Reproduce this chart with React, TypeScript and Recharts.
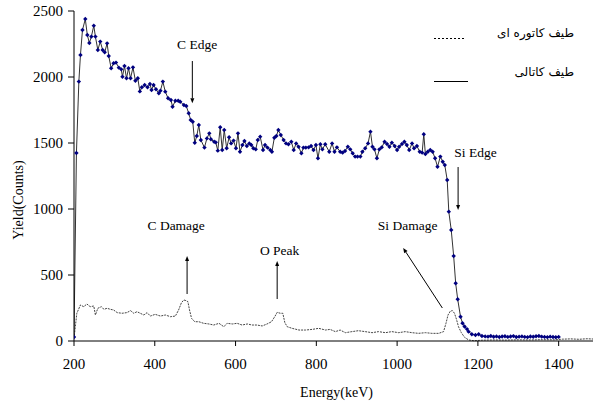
import { Line, LineChart, ReferenceDot, ReferenceLine, XAxis, YAxis } from "recharts";

// random spectrum (blue markers)
const randomEnergy = [
  200, 206, 212, 216, 221, 228, 233, 238, 243, 249, 253, 259, 265, 271, 276, 282, 286, 292, 298, 304,
  311, 317, 320, 325, 330, 335, 340, 346, 352, 358, 363, 368, 375, 382, 388, 392, 397, 403, 410, 414,
  420, 426, 433, 440, 444, 451, 458, 463, 472, 478, 484, 489, 494, 499, 504, 509, 514, 523, 529, 535,
  539, 547, 551, 556, 562, 567, 572, 578, 584, 589, 595, 601, 606, 611, 617, 622, 628, 634, 639, 644,
  650, 655, 661, 668, 673, 679, 686, 690, 696, 701, 706, 712, 719, 725, 731, 738, 744, 750, 756, 763,
  768, 774, 781, 787, 793, 799, 804, 810, 815, 822, 832, 839, 845, 851, 859, 865, 871, 878, 884, 890,
  896, 902, 909, 914, 921, 928, 934, 939, 944, 950, 956, 962, 969, 975, 981, 987, 994, 1000, 1005, 1012,
  1018, 1024, 1030, 1037, 1042, 1049, 1056, 1062, 1066, 1070, 1076, 1082, 1088, 1094, 1100, 1107, 1113, 1118, 1124, 1128,
  1134, 1140, 1145, 1150, 1157, 1162, 1167, 1173, 1177, 1185, 1194, 1202, 1210, 1218, 1225, 1232, 1239, 1246, 1253, 1260,
  1267, 1274, 1281, 1288, 1295, 1302, 1309, 1316, 1323, 1330, 1337, 1344, 1351, 1358, 1365, 1372, 1379, 1386, 1393, 1400,
];
const randomYield = [
  30, 1424, 1965, 2167, 2356, 2439, 2318, 2258, 2306, 2389, 2306, 2205, 2268, 2205, 2187, 2255, 2159, 2066, 2104, 2109,
  2071, 2058, 2002, 2083, 1990, 2066, 1990, 2073, 1972, 1990, 1891, 1922, 1939, 1922, 1947, 1902, 1939, 1907, 1877, 1896,
  1965, 1889, 1839, 1826, 1775, 1820, 1820, 1813, 1788, 1780, 1725, 1674, 1661, 1502, 1553, 1636, 1523, 1465, 1535, 1573,
  1528, 1510, 1505, 1442, 1619, 1447, 1598, 1460, 1543, 1497, 1518, 1460, 1573, 1434, 1485, 1515, 1477, 1497, 1485, 1460,
  1452, 1523, 1548, 1447, 1485, 1465, 1447, 1434, 1540, 1553, 1598, 1561, 1523, 1497, 1490, 1510, 1447, 1497, 1472, 1422,
  1465, 1465, 1467, 1477, 1447, 1485, 1384, 1490, 1452, 1490, 1434, 1497, 1434, 1467, 1434, 1427, 1439, 1472, 1452, 1422,
  1397, 1397, 1397, 1434, 1460, 1497, 1586, 1472, 1452, 1384, 1452, 1467, 1510, 1492, 1472, 1502, 1477, 1447, 1472, 1492,
  1510, 1485, 1447, 1497, 1460, 1477, 1434, 1427, 1566, 1417, 1434, 1447, 1434, 1384, 1320, 1397, 1358, 1333, 1220, 980,
  841, 644, 437, 316, 184, 134, 110, 90, 71, 51, 45, 51, 38, 35, 33, 38, 32, 35, 30, 34,
  36, 31, 34, 37, 30, 33, 35, 31, 29, 34, 32, 36, 38, 33, 31, 29, 33, 30, 28, 31,
];

// channeled spectrum (thin dotted)
const channelEnergy = [
  200, 207, 216, 224, 232, 240, 249, 253, 259, 268, 274, 282, 290, 298, 307, 319, 331, 340, 348, 356,
  364, 373, 381, 389, 401, 414, 426, 439, 451, 459, 466, 472, 478, 482, 486, 491, 499, 509, 521, 534,
  546, 559, 571, 579, 592, 604, 616, 629, 641, 653, 666, 678, 689, 697, 703, 711, 717, 722, 728, 740,
  757, 773, 790, 806, 823, 834, 847, 859, 872, 888, 904, 921, 938, 954, 971, 987, 1004, 1020, 1037, 1053,
  1070, 1086, 1103, 1115, 1121, 1126, 1132, 1137, 1142, 1147, 1152, 1159, 1167, 1177, 1190, 1210, 1240, 1270, 1300, 1330,
  1360, 1390, 1410, 1430, 1450, 1470, 1485,
];
const channelYield = [
  20, 210, 273, 260, 280, 260, 265, 197, 248, 260, 240, 248, 240, 235, 215, 210, 215, 230, 210, 222,
  210, 197, 215, 189, 202, 189, 197, 184, 189, 235, 290, 311, 305, 298, 235, 172, 146, 146, 134, 129,
  121, 134, 108, 134, 129, 134, 121, 129, 121, 121, 114, 129, 146, 184, 217, 210, 210, 139, 108, 96,
  83, 83, 88, 96, 83, 88, 71, 83, 63, 71, 78, 71, 63, 71, 63, 71, 63, 71, 63, 58,
  63, 58, 58, 71, 134, 197, 227, 230, 210, 164, 108, 63, 28, 8, 2, 6, 8, 7, 9, 8,
  10, 9, 14, 16, 13, 17, 15,
];

const xTicks = [200, 400, 600, 800, 1000, 1200, 1400];
const yTicks = [0, 500, 1000, 1500, 2000, 2500];

const randomData = randomEnergy.map((e, i) => ({ e, y: randomYield[i] }));
const channelData = channelEnergy.map((e, i) => ({ e, y: channelYield[i] }));

const serif = '"Liberation Serif", "Times New Roman", serif';

const Diamond = (p: any) => {
  const { cx, cy, index } = p;
  if (cx == null || cy == null) return null;
  const s = 2.2;
  return (
    <polygon
      key={`d-${index}`}
      points={`${cx},${cy - s} ${cx + s},${cy} ${cx},${cy + s} ${cx - s},${cy}`}
      fill="#000080"
    />
  );
};

const Arrow = (p: any) => {
  const { x1, y1, x2, y2 } = p;
  const ang = Math.atan2(y2 - y1, x2 - x1);
  const len = 5;
  const w = 2;
  const bx = x2 - len * Math.cos(ang);
  const by = y2 - len * Math.sin(ang);
  const px = -Math.sin(ang) * w;
  const py = Math.cos(ang) * w;
  return (
    <g>
      <line x1={x1} y1={y1} x2={bx} y2={by} stroke="#000" strokeWidth={1} />
      <polygon points={`${x2},${y2} ${bx + px},${by + py} ${bx - px},${by - py}`} fill="#000" />
    </g>
  );
};

const arrows = [
  { from: { x: 493, y: 2121 }, to: { x: 493, y: 1801 } },
  { from: { x: 480, y: 356 }, to: { x: 480, y: 644 } },
  { from: { x: 703, y: 318 }, to: { x: 703, y: 606 } },
  { from: { x: 1112, y: 250 }, to: { x: 1015, y: 705 } },
  { from: { x: 1151, y: 1318 }, to: { x: 1151, y: 992 } },
];

const notes = [
  { text: "C Edge", x: 505, y: 2250 },
  { text: "C Damage", x: 453, y: 876 },
  { text: "O Peak", x: 709, y: 689 },
  { text: "Si Damage", x: 1026, y: 876 },
  { text: "Si Edge", x: 1194, y: 1434 },
];

const LegendBox = () => (
  <div
    style={{
      position: "absolute",
      left: 420,
      top: 15,
      width: 170,
      height: 80,
      fontFamily: '"DejaVu Sans", sans-serif',
      fontSize: 12,
    }}
  >
    <svg width={60} height={80} style={{ position: "absolute", left: 0, top: 0 }}>
      <line x1={14} y1={23.5} x2={46} y2={23.5} stroke="#000" strokeDasharray="2 2" />
      <line x1={14} y1={66.5} x2={48} y2={66.5} stroke="#000" />
    </svg>
    <div dir="rtl" style={{ position: "absolute", right: 16, top: 10, whiteSpace: "nowrap", lineHeight: "16px" }}>
      طیف کاتوره ای
    </div>
    <div dir="rtl" style={{ position: "absolute", right: 16, top: 49, whiteSpace: "nowrap", lineHeight: "16px" }}>
      طیف کاتالی
    </div>
  </div>
);

export default function App() {
  return (
    <div style={{ position: "absolute", left: 0, top: 0, width: 593, height: 405, background: "#fff" }}>
      <LineChart width={593} height={405} margin={{ top: 11, right: 0, bottom: 0, left: 0 }}>
        <XAxis
          type="number"
          dataKey="e"
          domain={[200, 1485]}
          ticks={xTicks}
          allowDataOverflow
          height={64}
          stroke="#000"
          tickSize={5}
          tickMargin={12}
          tick={{ fill: "#000", fontSize: 15, fontFamily: serif }}
          label={{ value: "Energy(keV)", position: "insideBottom", offset: 8, dx: 3, fill: "#000", fontSize: 14, fontFamily: serif }}
        />
        <YAxis
          type="number"
          domain={[0, 2500]}
          ticks={yTicks}
          width={74}
          stroke="#000"
          tickSize={6}
          tickMargin={5}
          tick={{ fill: "#000", fontSize: 15, fontFamily: serif }}
          label={() => (
            <text
              transform="translate(23,200) rotate(-90)"
              textAnchor="middle"
              fill="#000"
              fontSize={14}
              fontFamily={serif}
            >
              Yield(Counts)
            </text>
          )}
        />
        <Line
          data={channelData}
          dataKey="y"
          type="linear"
          stroke="#444"
          strokeWidth={1}
          strokeDasharray="2 1"
          dot={false}
          activeDot={false}
          isAnimationActive={false}
        />
        <Line
          data={randomData}
          dataKey="y"
          type="linear"
          stroke="#333"
          strokeWidth={1}
          dot={Diamond}
          activeDot={false}
          isAnimationActive={false}
        />
        {arrows.map((a, i) => (
          <ReferenceLine key={`a-${i}`} segment={[a.from, a.to]} shape={Arrow} />
        ))}
        {notes.map((n) => (
          <ReferenceDot
            key={n.text}
            x={n.x}
            y={n.y}
            r={0}
            fill="none"
            stroke="none"
            label={{ value: n.text, position: "center", fill: "#000", fontSize: 13.5, fontFamily: serif }}
          />
        ))}
      </LineChart>
      <LegendBox />
    </div>
  );
}
